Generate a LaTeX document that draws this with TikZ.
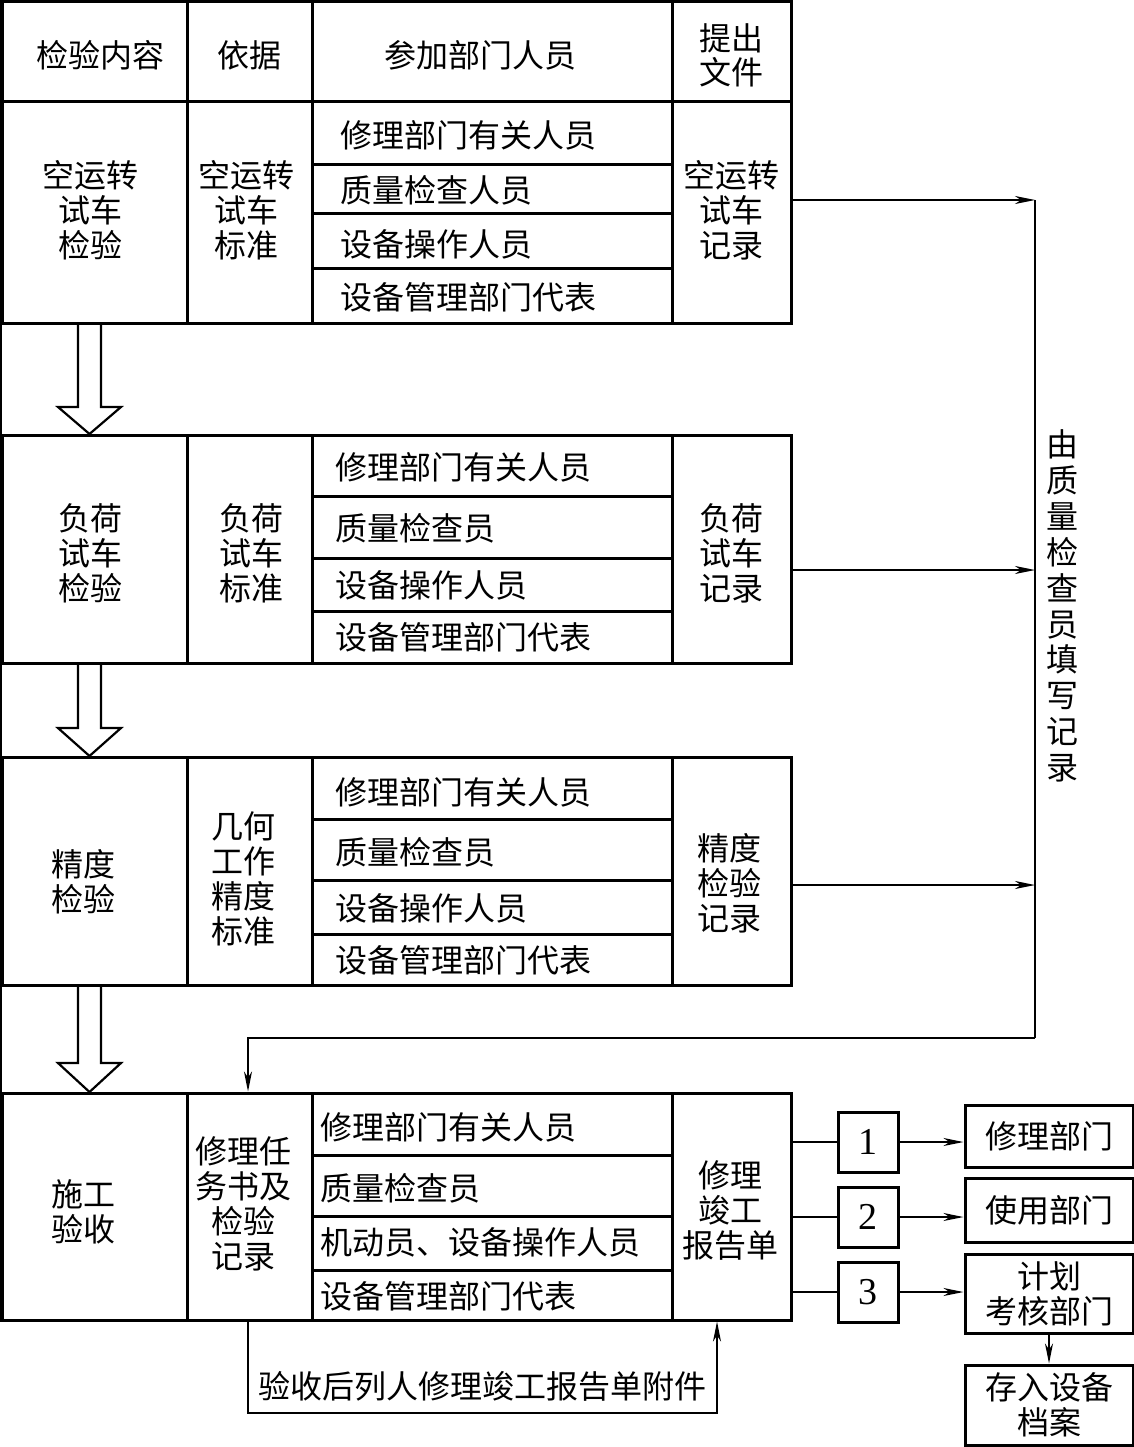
\documentclass[tikz,border=0pt]{standalone}
\usepackage{fontspec}
\setmainfont{Liberation Serif}
\newfontfamily\cjk{Noto Sans CJK SC}
\usetikzlibrary{arrows.meta,calc}
\newcommand\mkcell[6]{\node[cell, minimum width={(#4-#2)*1pt}, minimum height={(#5-#3)*1pt}] (#1) at ({(#2+#4)/2},{(#3+#5)/2}) {#6};}
\begin{document}
\begin{tikzpicture}[x=1pt,y=-1pt,
  cell/.style={draw, line width=3pt, inner sep=0pt, align=center, font=\cjk\fontsize{32}{35}\selectfont},
  txt/.style={inner sep=0pt, align=center, font=\cjk\fontsize{32}{35}\selectfont},
  conn/.style={line width=1.6pt},
  arr/.style={-{Stealth[length=20pt,width=8pt,inset=6pt]}},
  numbox/.style={draw, line width=3pt, inner sep=0pt, minimum width=60pt, minimum height=60pt, font=\fontsize{38}{38}\selectfont},
  hollow/.style={line width=2.2pt, line join=miter}]
\useasboundingbox[fill=white] (0,0) rectangle (1134,1447);

% header
\mkcell{h1}{2}{2}{187}{102}{}
\mkcell{h2}{187}{2}{312}{102}{}
\mkcell{h3}{312}{2}{672}{102}{}
\mkcell{h4}{672}{2}{791}{102}{}
\node[txt] (h1t) at (100,55) {检验内容};
\node[txt] (h2t) at (249,55) {依据};
\node[txt] (h3t) at (480,55) {参加部门人员};
\node[txt, font=\cjk\fontsize{32}{34}\selectfont] (h4t) at (731,55) {提出\\文件};

% block 1
\mkcell{a1}{2}{102}{187}{323}{}
\mkcell{b1}{187}{102}{312}{323}{}
\mkcell{r11}{312}{102}{672}{165}{}
\mkcell{r12}{312}{165}{672}{214}{}
\mkcell{r13}{312}{214}{672}{268}{}
\mkcell{r14}{312}{268}{672}{323}{}
\mkcell{f1}{672}{102}{791}{323}{}
\node[txt] (a1t) at (90,210) {空运转\\试车\\检验};
\node[txt] (b1t) at (246,210) {空运转\\试车\\标准};
\node[txt] (f1t) at (731,210) {空运转\\试车\\记录};
\node[txt, anchor=west] (p11) at (340,135) {修理部门有关人员};
\node[txt, anchor=west] (p12) at (340,190) {质量检查人员};
\node[txt, anchor=west] (p13) at (340,244) {设备操作人员};
\node[txt, anchor=west] (p14) at (340,297) {设备管理部门代表};

% block 2
\mkcell{a2}{2}{435}{187}{663}{}
\mkcell{b2}{187}{435}{312}{663}{}
\mkcell{r21}{312}{435}{672}{496}{}
\mkcell{r22}{312}{496}{672}{558}{}
\mkcell{r23}{312}{558}{672}{611}{}
\mkcell{r24}{312}{611}{672}{663}{}
\mkcell{f2}{672}{435}{791}{663}{}
\node[txt] (a2t) at (90,553) {负荷\\试车\\检验};
\node[txt] (b2t) at (251,553) {负荷\\试车\\标准};
\node[txt] (f2t) at (731,553) {负荷\\试车\\记录};
\node[txt, anchor=west] (p21) at (335,467) {修理部门有关人员};
\node[txt, anchor=west] (p22) at (335,528) {质量检查员};
\node[txt, anchor=west] (p23) at (335,585) {设备操作人员};
\node[txt, anchor=west] (p24) at (335,637) {设备管理部门代表};

% block 3
\mkcell{a3}{2}{757}{187}{985}{}
\mkcell{b3}{187}{757}{312}{985}{}
\mkcell{r31}{312}{757}{672}{819}{}
\mkcell{r32}{312}{819}{672}{880}{}
\mkcell{r33}{312}{880}{672}{934}{}
\mkcell{r34}{312}{934}{672}{985}{}
\mkcell{f3}{672}{757}{791}{985}{}
\node[txt] (a3t) at (83,882) {精度\\检验};
\node[txt] (b3t) at (243,879) {几何\\工作\\精度\\标准};
\node[txt] (f3t) at (729,883) {精度\\检验\\记录};
\node[txt, anchor=west] (p31) at (335,792) {修理部门有关人员};
\node[txt, anchor=west] (p32) at (335,852) {质量检查员};
\node[txt, anchor=west] (p33) at (335,908) {设备操作人员};
\node[txt, anchor=west] (p34) at (335,960) {设备管理部门代表};

% block 4
\mkcell{a4}{2}{1093}{187}{1320}{}
\mkcell{b4}{187}{1093}{312}{1320}{}
\mkcell{r41}{312}{1093}{672}{1155}{}
\mkcell{r42}{312}{1155}{672}{1216}{}
\mkcell{r43}{312}{1216}{672}{1270}{}
\mkcell{r44}{312}{1270}{672}{1320}{}
\mkcell{f4}{672}{1093}{791}{1320}{}
\node[txt] (a4t) at (83,1212) {施工\\验收};
\node[txt] (b4t) at (243,1204) {修理任\\务书及\\检验\\记录};
\node[txt] (f4t) at (730,1210) {修理\\竣工\\报告单};
\node[txt, anchor=west] (p41) at (320,1127) {修理部门有关人员};
\node[txt, anchor=west] (p42) at (320,1188) {质量检查员};
\node[txt, anchor=west] (p43) at (320,1242) {机动员、设备操作人员};
\node[txt, anchor=west] (p44) at (320,1296) {设备管理部门代表};

% continuous left border
\draw[line width=3pt] (h1.north west) -- (a4.south west);

% hollow arrows between blocks
\draw[hollow] (78,323) -- (78,407) -- (58,407) -- (89.5,434) -- (121,407) -- (101,407) -- (101,323);
\draw[hollow] (78,663) -- (78,728) -- (58,728) -- (89.5,756) -- (121,728) -- (101,728) -- (101,663);
\draw[hollow] (78,985) -- (78,1063) -- (58,1063) -- (89.5,1092) -- (121,1063) -- (101,1063) -- (101,985);

% collection line on the right
\coordinate (j1) at (1035,200);
\coordinate (j2) at (1035,570);
\coordinate (j3) at (1035,885);
\coordinate (jc) at (1035,1038);
\coordinate (jt) at (248,1038);
\coordinate (jb) at (248,1413);
\coordinate (je) at (717,1413);
\draw[conn,arr] (f1.east |- j1) -- (j1);
\draw[conn,arr] (f2.east |- j2) -- (j2);
\draw[conn,arr] (f3.east |- j3) -- (j3);
\draw[conn] (j1) -- (jc);
\draw[conn,arr] (jc) -- (jt) -- (jt |- b4.north);
\node[txt, font=\cjk\fontsize{32}{35.9}\selectfont] (vl) at (1062,606) {由\\质\\量\\检\\查\\员\\填\\写\\记\\录};

% bottom loop
\draw[conn,arr] (jt |- b4.south) -- (jb) -- (je) -- (je |- f4.south);
\node[txt] (bt) at (482,1386) {验收后列人修理竣工报告单附件};

% distribution
\node[numbox] (n1) at (868,1142) {1};
\node[numbox] (n2) at (868,1217) {2};
\node[numbox] (n3) at (868,1292) {3};
\mkcell{d1}{965}{1105}{1133}{1167}{修理部门}
\mkcell{d2}{965}{1178}{1133}{1242}{使用部门}
\mkcell{d3}{965}{1254}{1133}{1333}{计划\\考核部门}
\mkcell{d4}{965}{1365}{1133}{1445}{存入设备\\档案}
\draw[conn] (f4.east |- n1) -- (n1.west);
\draw[conn] (f4.east |- n2) -- (n2.west);
\draw[conn] (f4.east |- n3) -- (n3.west);
\draw[conn,arr] (n1.east) -- (n1 -| d1.west);
\draw[conn,arr] (n2.east) -- (n2 -| d2.west);
\draw[conn,arr] (n3.east) -- (n3 -| d3.west);
\draw[conn,arr] (d3.south) -- (d4.north);
\end{tikzpicture}
\end{document}
